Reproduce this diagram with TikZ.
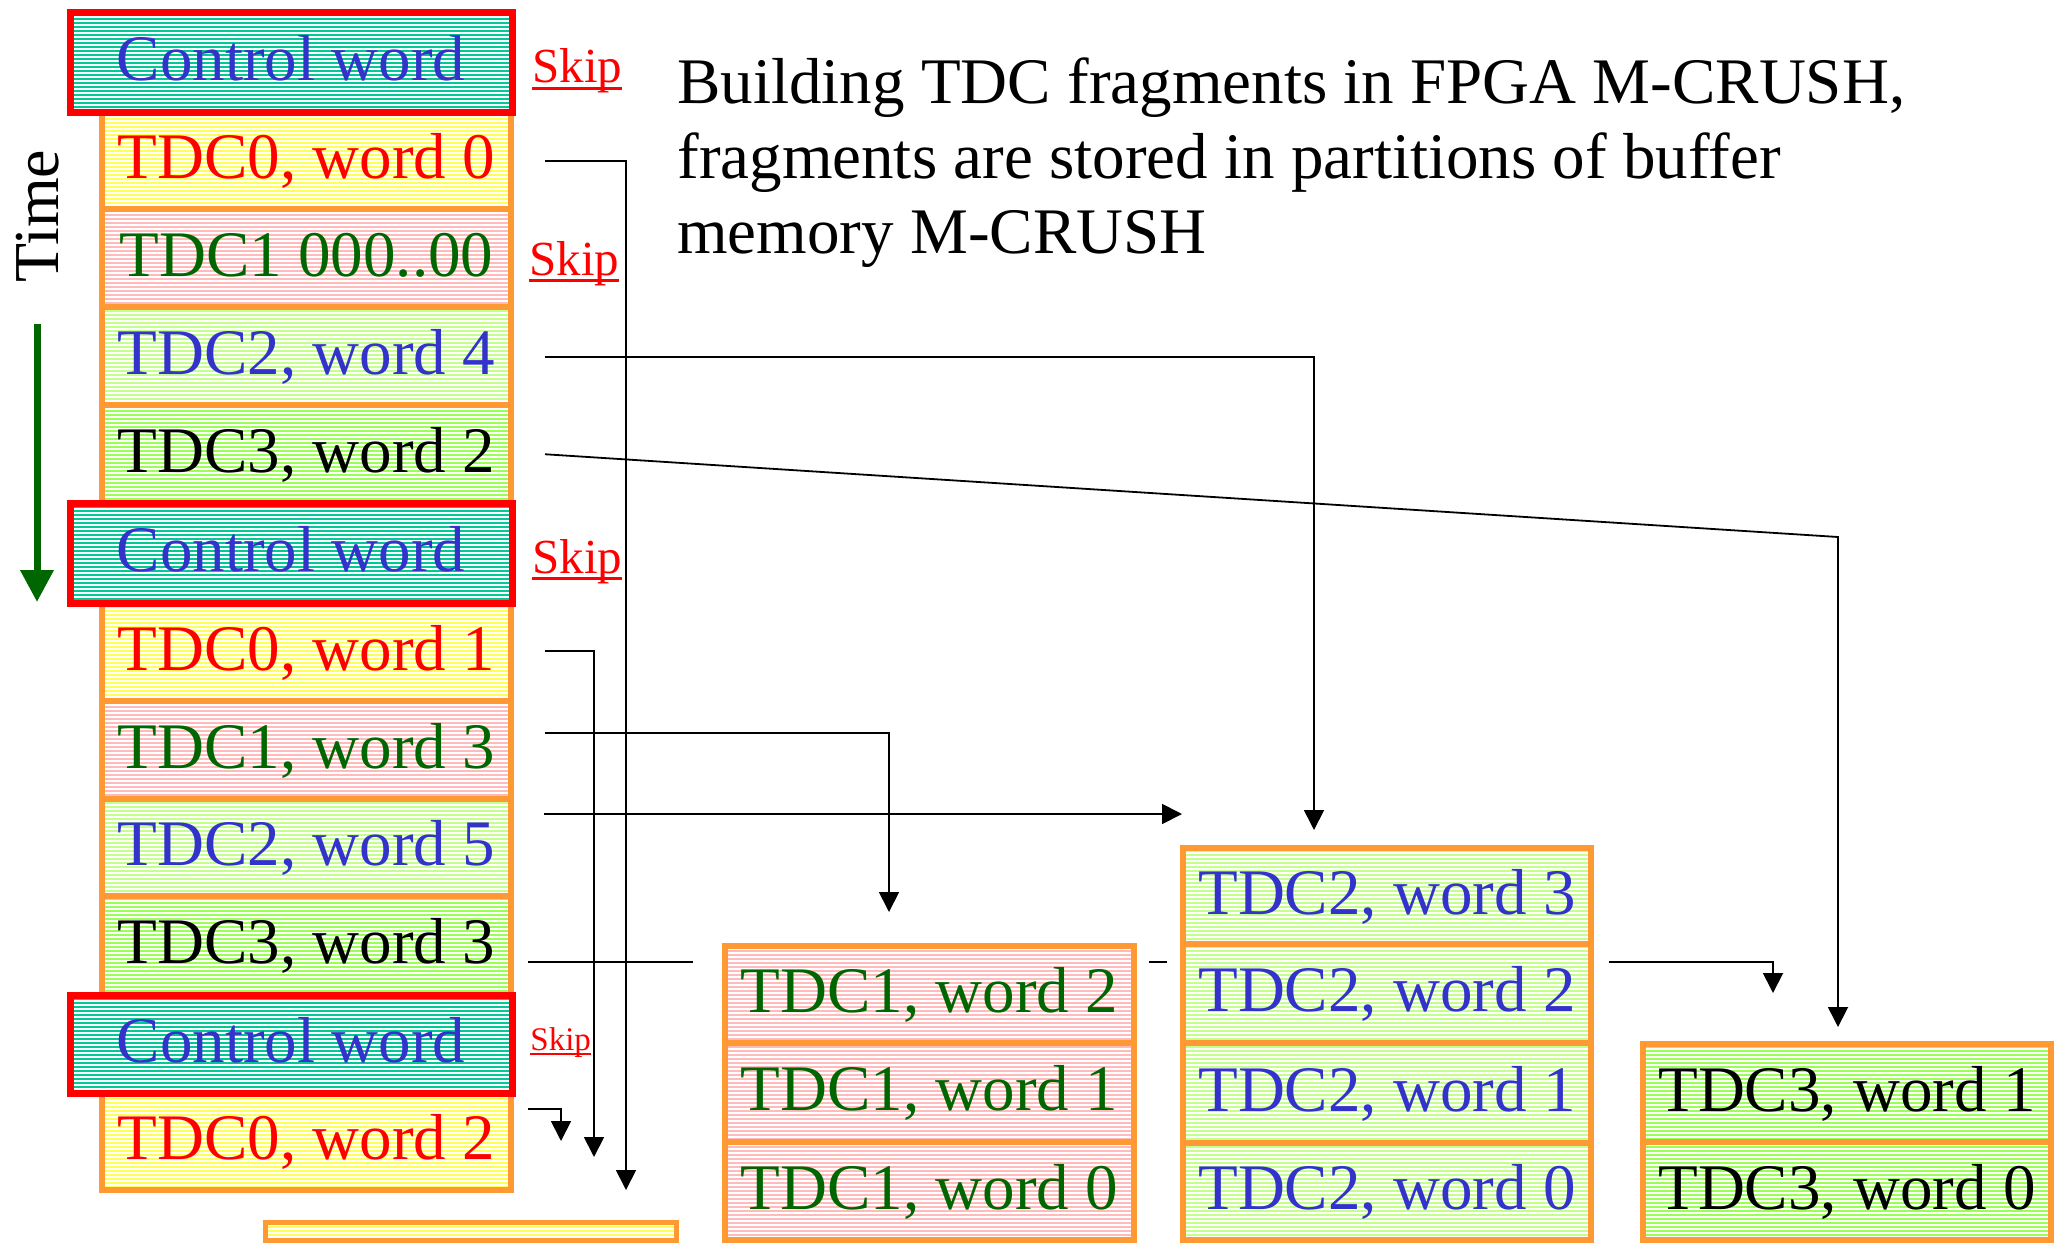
\documentclass[tikz,border=0pt]{standalone}
\usepackage{fontspec}
\setmainfont{Liberation Serif}
\usetikzlibrary{arrows.meta,patterns.meta,calc}

\definecolor{cwblue}{HTML}{3333CC}
\definecolor{tgreen}{HTML}{006600}
\definecolor{cellorange}{HTML}{FF9933}
\definecolor{ctlred}{HTML}{FF0000}
\definecolor{stTeal}{HTML}{00C896}
\definecolor{stYellow}{HTML}{FFFF55}
\definecolor{stPink}{HTML}{FFBBBB}
\definecolor{stLime}{HTML}{C4FF8C}
\definecolor{stGreen}{HTML}{99FF55}

% underline that crosses the descenders, as in slide software
\newcommand\ulword[1]{\setbox0\hbox{#1}\rlap{\rule[-0.14em]{\wd0}{0.055em}}\box0}

\begin{document}
\begin{tikzpicture}[x=0.5pt,y=-0.5pt,
  stripes/.style={preaction={fill=white},
    pattern={Lines[angle=0,distance=2pt,line width=1pt]}, pattern color=#1},
  celltext/.style={font=\fontsize{32.5pt}{37pt}\selectfont,
    text height=23pt, text depth=5pt, inner sep=0pt},
  wordcell/.style={celltext, draw=cellorange, line width=2.75pt, outer sep=0pt,
    minimum width=204.5pt},
  ctlcell/.style={celltext, draw=ctlred, line width=3.5pt, outer sep=0pt,
    minimum width=221pt, stripes=stTeal, text=cwblue},
  barcell/.style={draw=cellorange, line width=2.5pt, outer sep=0pt, inner sep=0pt,
    stripes=stYellow, minimum width=205.5pt, minimum height=9pt},
  t0/.style={stripes=stYellow, text=red},
  t1/.style={stripes=stPink, text=tgreen},
  t2/.style={stripes=stLime, text=cwblue},
  t3/.style={stripes=stGreen, text=black},
  skiplbl/.style={font=\fontsize{24.5pt}{28pt}\selectfont, text=red,
    inner sep=0pt, anchor=base west},
  titleline/.style={font=\fontsize{32.5pt}{37pt}\selectfont, inner sep=0pt,
    anchor=base west},
  wire/.style={line width=0.9pt},
  conn/.style={wire, -{Triangle[length=10pt,width=10pt]}}
]
\path[use as bounding box] (0,0) rectangle (2056,1247);

% ---------- title ----------
\node[titleline] (title1) at (677,104) {Building TDC fragments in FPGA M-CRUSH,};
\node[titleline] (title2) at (677,178) {fragments are stored in partitions of buffer};
\node[titleline] (title3) at (677,253) {memory M-CRUSH};

% ---------- time axis ----------
\node[font=\fontsize{32pt}{36pt}\selectfont, rotate=90, anchor=base west,
      inner sep=0pt] (time) at (58,283) {Time};
\coordinate (timetop) at (37,324);
\coordinate (timetip) at (37,602);
\draw[draw=tgreen, line width=3.5pt, -{Triangle[length=16pt,width=16pt]}]
  (timetop) -- (timetip);

% ---------- input stream of words ----------
\node[wordcell, t0, minimum height=48.25pt] (a0) at (306.5,160.75) {TDC0, word 0};
\node[wordcell, t1, minimum height=49pt]    (a1) at (306.5,258)    {TDC1 000..00};
\node[wordcell, t2, minimum height=49pt]    (a2) at (306.5,356)    {TDC2, word 4};
\node[wordcell, t3, minimum height=49.25pt] (a3) at (306.5,454.25) {TDC3, word 2};
\node[wordcell, t0, minimum height=48.75pt] (b0) at (306.5,652.25) {TDC0, word 1};
\node[wordcell, t1, minimum height=49pt]    (b1) at (306.5,750)    {TDC1, word 3};
\node[wordcell, t2, minimum height=48.5pt]  (b2) at (306.5,847.5)  {TDC2, word 5};
\node[wordcell, t3, minimum height=49.75pt] (b3) at (306.5,945.75) {TDC3, word 3};
\node[wordcell, t0, minimum height=48.25pt] (c0) at (306.5,1141.75) {TDC0, word 2};

\node[ctlcell, minimum height=50pt] (ctl1) at (291,62.5)   {Control word};
\node[ctlcell, minimum height=50pt] (ctl2) at (291,553.5)  {Control word};
\node[ctlcell, minimum height=49pt] (ctl3) at (291,1044.5) {Control word};

\node[skiplbl] (skip1) at (532,83)  {\ulword{Skip}};
\node[skiplbl] (skip2) at (529,275) {\ulword{Skip}};
\node[skiplbl] (skip3) at (532,573) {\ulword{Skip}};
\node[skiplbl, font=\fontsize{16.5pt}{19pt}\selectfont] (skip4) at (530,1050) {\ulword{Skip}};

% ---------- buffer partitions ----------
\node[barcell] (bar) at (471,1231.5) {};

\node[wordcell, t1, minimum height=48.5pt] (p10) at (929.5,994.5) {TDC1, word 2};
\node[wordcell, t1, minimum height=49.5pt] (p11) at (929.5,1092.5) {TDC1, word 1};
\node[wordcell, t1, minimum height=49pt]   (p12) at (929.5,1191)   {TDC1, word 0};

\node[wordcell, t2, minimum width=204pt, minimum height=48pt]   (p20) at (1387,896)    {TDC2, word 3};
\node[wordcell, t2, minimum width=204pt, minimum height=49.5pt] (p21) at (1387,993.5)  {TDC2, word 2};
\node[wordcell, t2, minimum width=204pt, minimum height=50pt]   (p22) at (1387,1093)   {TDC2, word 1};
\node[wordcell, t2, minimum width=204pt, minimum height=48.5pt] (p23) at (1387,1191.5) {TDC2, word 0};

\node[wordcell, t3, minimum width=204pt, minimum height=49pt] (p30) at (1847,1093) {TDC3, word 1};
\node[wordcell, t3, minimum width=204pt, minimum height=49pt] (p31) at (1847,1191) {TDC3, word 0};

% ---------- routing of words into partitions ----------
\coordinate (tip1) at (626,1190);
\coordinate (tip2) at (1314,830);
\coordinate (bend3) at (1838,537);
\coordinate (tip3) at (1838,1027);
\coordinate (tip4) at (594,1157);
\coordinate (tip5) at (889,912);
\coordinate (tip6) at (1182,814);
\coordinate (gap1) at (693,962);
\coordinate (gap2) at (1149,962);
\coordinate (gap3) at (1167,962);
\coordinate (gap4) at (1609,962);
\coordinate (tip7) at (1773,993);
\coordinate (tip8) at (561,1141);

\draw[conn] ($(a0.east)+(34,0)$) -| (tip1);
\draw[conn] ($(a2.east)+(34,1)$) -| (tip2);
\draw[conn] ($(a3.east)+(34,0)$) -- (bend3) -- (tip3);
\draw[conn] ($(b0.east)+(34,-1)$) -| (tip4);
\draw[conn] ($(b1.east)+(34,-17)$) -| (tip5);
\draw[conn] ($(b2.east)+(33,-33.5)$) -- (tip6);
\draw[wire] ($(b3.east)+(17,16.25)$) -- (gap1);
\draw[wire] (gap2) -- (gap3);
\draw[conn] (gap4) -| (tip7);
\draw[conn] ($(c0.east)+(17,-32.75)$) -| (tip8);
\end{tikzpicture}
\end{document}
